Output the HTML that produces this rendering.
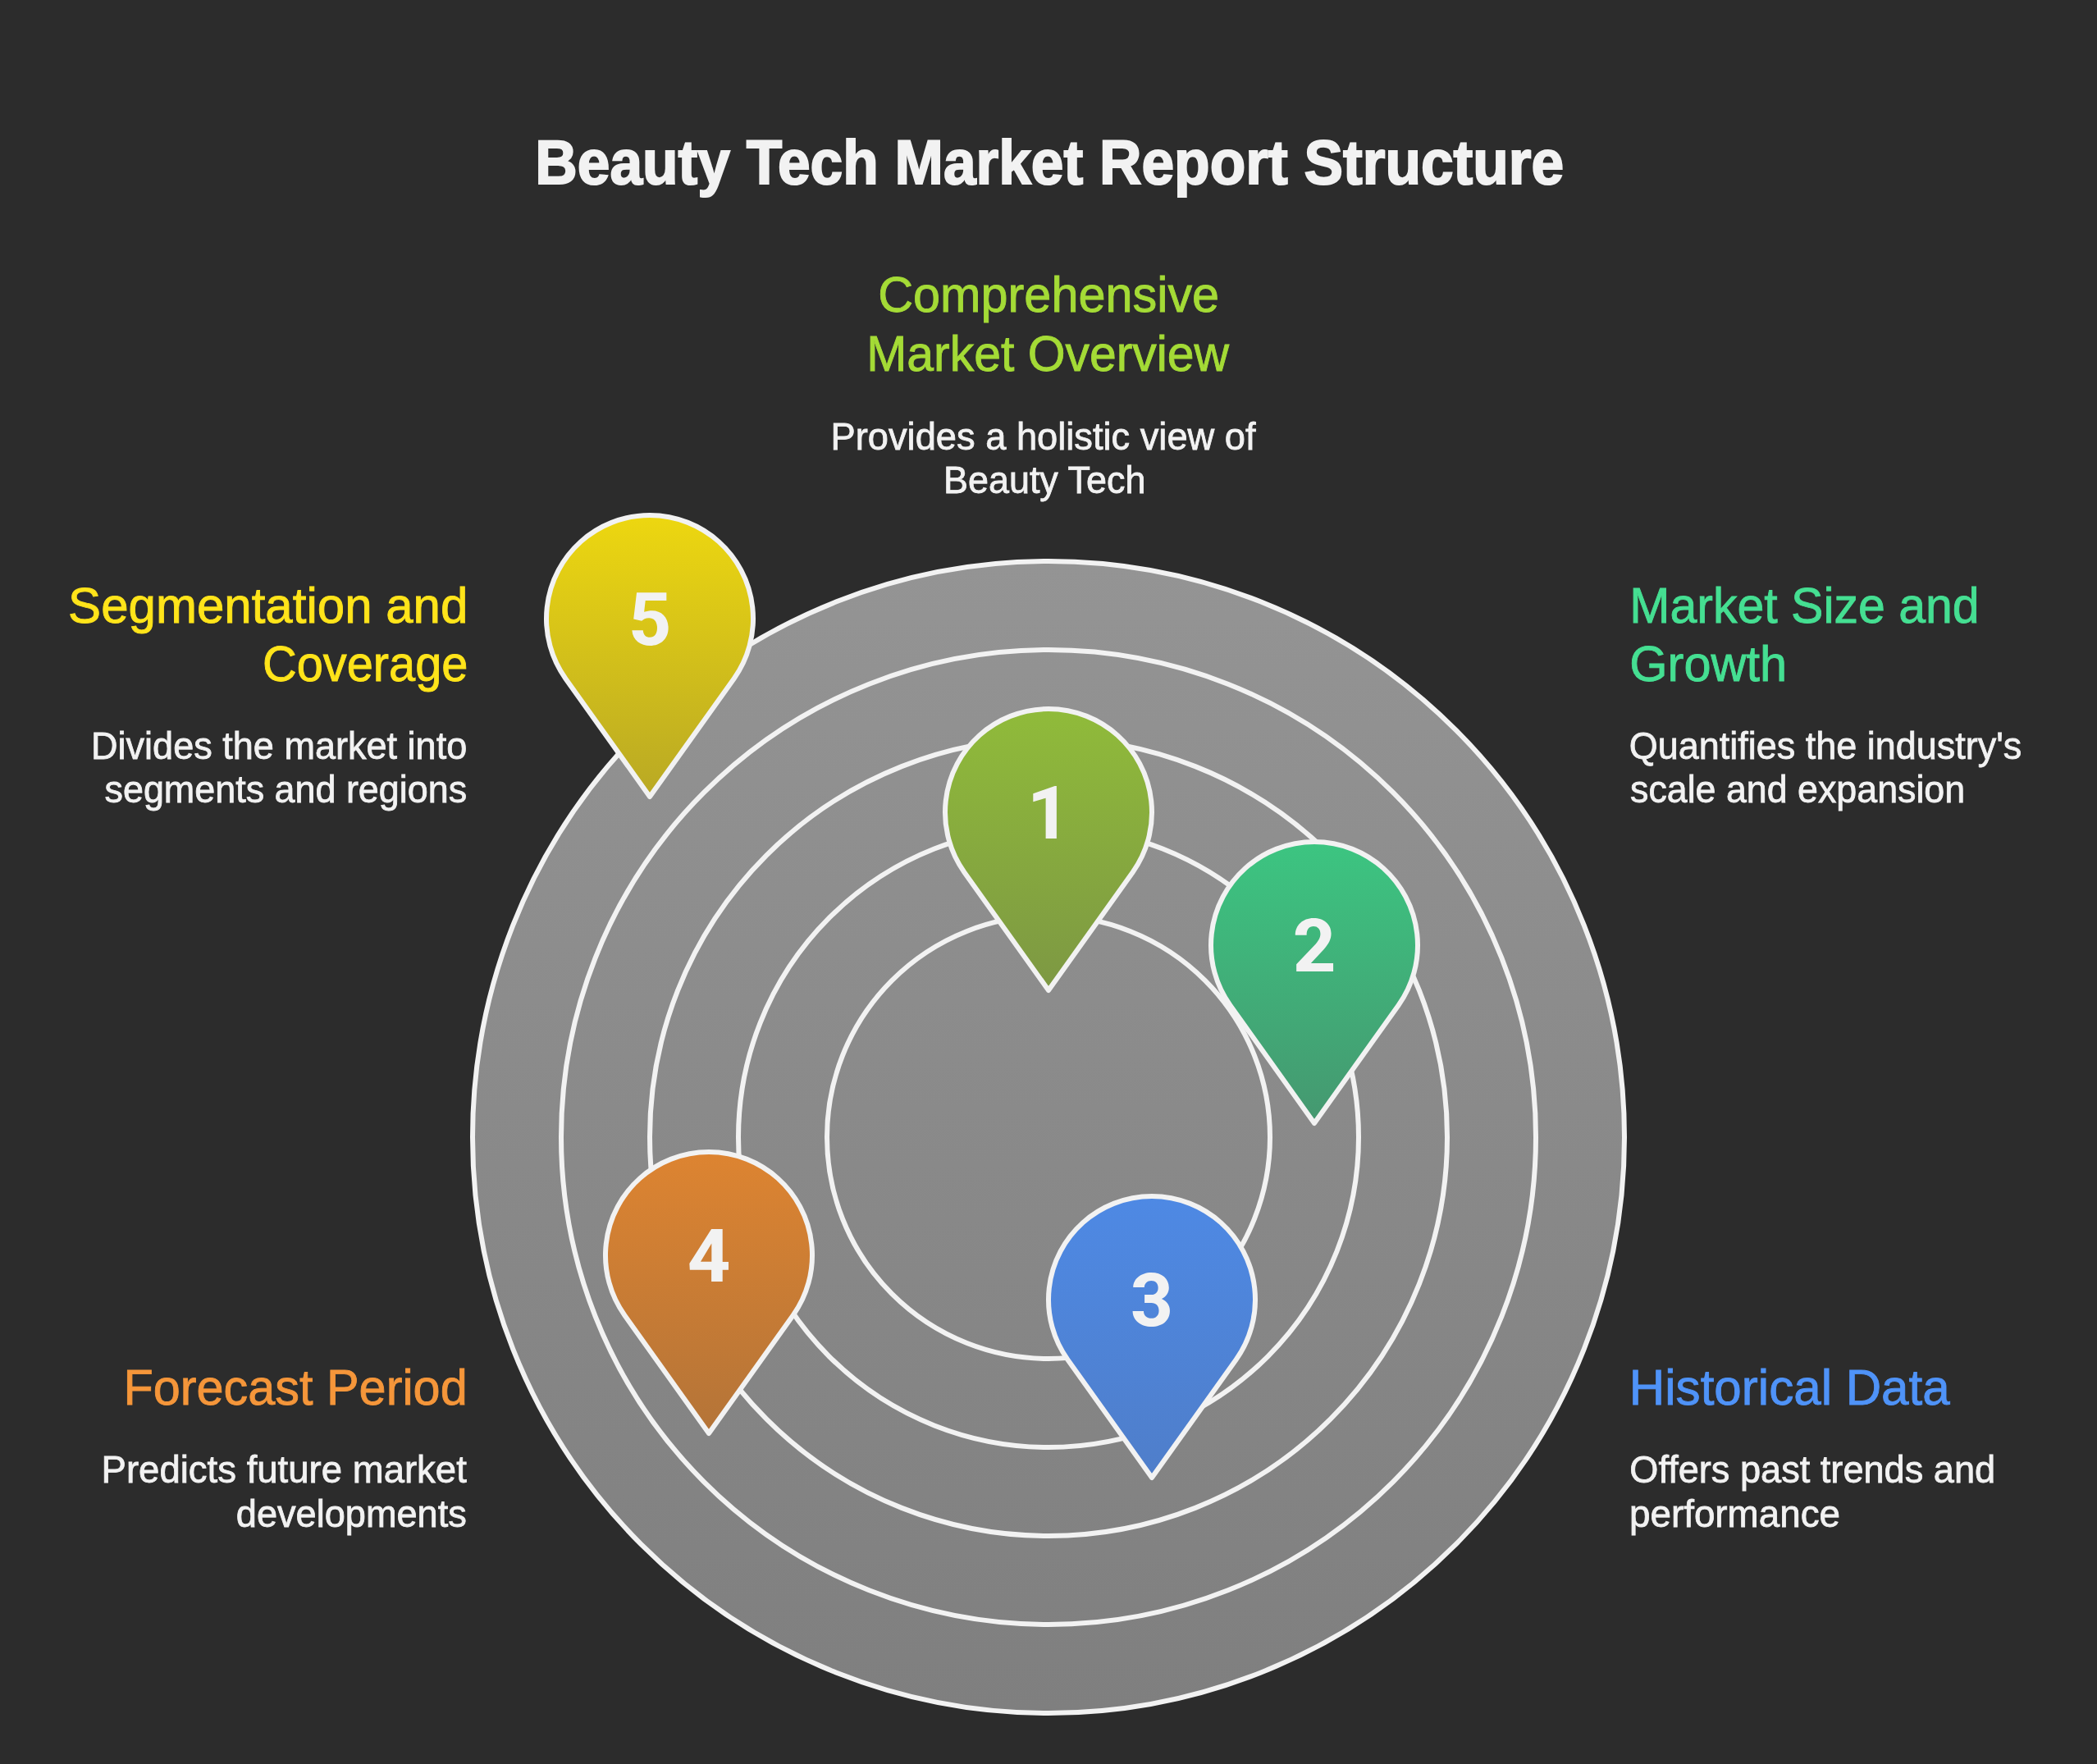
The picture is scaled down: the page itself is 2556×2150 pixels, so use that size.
<!DOCTYPE html>
<html><head><meta charset="utf-8"><style>html,body{margin:0;padding:0;background:#2c2c2c;overflow:hidden}svg{display:block;will-change:transform;width:100vw;height:auto}</style></head>
<body><svg width="2556" height="2150" viewBox="0 0 2556 2150" font-family='"Liberation Sans", sans-serif'><defs><linearGradient id="gc" gradientUnits="userSpaceOnUse" x1="0" y1="685" x2="0" y2="2087"><stop offset="0" stop-color="#949494"/><stop offset="1" stop-color="#7f7f7f"/></linearGradient><linearGradient id="g1" x1="0" y1="0" x2="0" y2="1"><stop offset="0" stop-color="#90bb3a"/><stop offset="1" stop-color="#7d9843"/></linearGradient><linearGradient id="g2" x1="0" y1="0" x2="0" y2="1"><stop offset="0" stop-color="#3cc581"/><stop offset="1" stop-color="#459870"/></linearGradient><linearGradient id="g3" x1="0" y1="0" x2="0" y2="1"><stop offset="0" stop-color="#4e89e4"/><stop offset="1" stop-color="#4f7eca"/></linearGradient><linearGradient id="g4" x1="0" y1="0" x2="0" y2="1"><stop offset="0" stop-color="#dd8431"/><stop offset="1" stop-color="#b47438"/></linearGradient><linearGradient id="g5" x1="0" y1="0" x2="0" y2="1"><stop offset="0" stop-color="#edd710"/><stop offset="1" stop-color="#b9a924"/></linearGradient></defs><rect width="2556" height="2150" fill="#2c2c2c"/><circle cx="1278" cy="1386" r="702" fill="url(#gc)" stroke="#f2f2f2" stroke-width="6"/><circle cx="1278" cy="1386" r="594" fill="url(#gc)" stroke="#f2f2f2" stroke-width="6"/><circle cx="1278" cy="1386" r="486" fill="url(#gc)" stroke="#f2f2f2" stroke-width="6"/><circle cx="1278" cy="1386" r="378" fill="url(#gc)" stroke="#f2f2f2" stroke-width="6"/><circle cx="1278" cy="1386" r="270" fill="url(#gc)" stroke="#f2f2f2" stroke-width="6"/><path d="M1278 1207 L1175.42 1063.16 A126 126 0 1 1 1380.58 1063.16 Z" fill="url(#g1)" stroke="#f2f2f2" stroke-width="6" stroke-linejoin="round"/><path transform="translate(1248 950) scale(0.045351)" fill="#f2f2f2" fill-rule="evenodd" d="M879 174 L879 1585 L587 1585 L587 500 L249 602 L249 379 L830 174 Z"/><path d="M1602 1369 L1499.42 1225.16 A126 126 0 1 1 1704.58 1225.16 Z" fill="url(#g2)" stroke="#f2f2f2" stroke-width="6" stroke-linejoin="round"/><path transform="translate(1572 1112) scale(0.045351)" fill="#f2f2f2" fill-rule="evenodd" d="M150 610 C150 350 350 155 640 155 C920 155 1115 320 1115 570 C1115 720 1050 850 920 990 L570 1365 L1170 1365 L1170 1585 L180 1585 L180 1395 L700 850 C790 745 825 660 825 580 C825 450 750 375 640 375 C520 375 455 460 455 610 Z"/><path d="M1404 1801 L1301.42 1657.16 A126 126 0 1 1 1506.58 1657.16 Z" fill="url(#g3)" stroke="#f2f2f2" stroke-width="6" stroke-linejoin="round"/><path transform="translate(1374 1544) scale(0.045351)" fill="#f2f2f2" fill-rule="evenodd" d="M160 550 L460 550 C460 450 540 375 645 375 C760 375 830 450 830 560 C830 680 760 750 650 750 L465 750 L465 970 L650 970 C775 970 850 1050 850 1180 C850 1310 770 1385 650 1385 C530 1385 440 1310 440 1190 L145 1190 C145 1440 370 1610 650 1610 C950 1610 1145 1440 1145 1180 C1145 1030 1060 920 925 860 C1045 800 1120 690 1120 560 C1120 320 930 155 645 155 C370 155 160 330 160 550 Z"/><path d="M864 1747 L761.42 1603.16 A126 126 0 1 1 966.58 1603.16 Z" fill="url(#g4)" stroke="#f2f2f2" stroke-width="6" stroke-linejoin="round"/><path transform="translate(834 1490) scale(0.045351)" fill="#f2f2f2" fill-rule="evenodd" d="M730 175 L1030 175 L1030 1060 L1190 1060 L1190 1275 L1030 1275 L1030 1585 L730 1585 L730 1275 L150 1275 L140 1105 Z M440 1055 L735 1055 L735 560 Z"/><path d="M792 971 L689.42 827.16 A126 126 0 1 1 894.58 827.16 Z" fill="url(#g5)" stroke="#f2f2f2" stroke-width="6" stroke-linejoin="round"/><path transform="translate(762 714) scale(0.045351)" fill="#f2f2f2" fill-rule="evenodd" d="M310 180 L1110 180 L1110 395 L545 395 L510 700 C580 680 650 665 720 665 C985 665 1160 850 1160 1130 C1160 1420 960 1610 665 1610 C420 1610 200 1460 185 1195 L480 1195 C490 1320 560 1385 665 1385 C790 1385 860 1290 860 1130 C860 960 775 865 640 865 C545 865 490 900 445 945 L225 895 Z"/><text id="t_title" x="652.31" y="223.5" font-size="76" fill="#f2f2f2" stroke="#f2f2f2" stroke-width="2.0" font-weight="bold" textLength="1253.90" lengthAdjust="spacingAndGlyphs">Beauty Tech Market Report Structure</text><text id="t_Comprehensive" x="1070.13" y="380.4" font-size="62" fill="#a4db36" stroke="#a4db36" stroke-width="0.9" font-weight="normal" textLength="416.00" lengthAdjust="spacingAndGlyphs">Comprehensive</text><text id="t_MarketOverview" x="1056.25" y="452.4" font-size="62" fill="#a4db36" stroke="#a4db36" stroke-width="0.9" font-weight="normal" textLength="441.85" lengthAdjust="spacingAndGlyphs">Market Overview</text><text id="t_Provides" x="1012.55" y="547.5" font-size="46" fill="#f2f2f2" stroke="#f2f2f2" stroke-width="0.8" font-weight="normal" textLength="518.03" lengthAdjust="spacingAndGlyphs">Provides a holistic view of</text><text id="t_BeautyTech" x="1149.98" y="601" font-size="46" fill="#f2f2f2" stroke="#f2f2f2" stroke-width="0.8" font-weight="normal" textLength="246.40" lengthAdjust="spacingAndGlyphs">Beauty Tech</text><text id="t_Segmentation" x="83.10" y="758.8" font-size="62" fill="#ffe41a" stroke="#ffe41a" stroke-width="0.9" font-weight="normal" textLength="487.26" lengthAdjust="spacingAndGlyphs">Segmentation and</text><text id="t_Coverage" x="319.98" y="830.4" font-size="62" fill="#ffe41a" stroke="#ffe41a" stroke-width="0.9" font-weight="normal" textLength="250.51" lengthAdjust="spacingAndGlyphs">Coverage</text><text id="t_Divides" x="111.06" y="925" font-size="46" fill="#f2f2f2" stroke="#f2f2f2" stroke-width="0.8" font-weight="normal" textLength="458.18" lengthAdjust="spacingAndGlyphs">Divides the market into</text><text id="t_segments" x="127.51" y="978" font-size="46" fill="#f2f2f2" stroke="#f2f2f2" stroke-width="0.8" font-weight="normal" textLength="441.59" lengthAdjust="spacingAndGlyphs">segments and regions</text><text id="t_MarketSize" x="1986.32" y="758.8" font-size="62" fill="#45df92" stroke="#45df92" stroke-width="0.9" font-weight="normal" textLength="426.39" lengthAdjust="spacingAndGlyphs">Market Size and</text><text id="t_Growth" x="1986.29" y="830.4" font-size="62" fill="#45df92" stroke="#45df92" stroke-width="0.9" font-weight="normal" textLength="191.81" lengthAdjust="spacingAndGlyphs">Growth</text><text id="t_Quantifies" x="1985.84" y="925" font-size="46" fill="#f2f2f2" stroke="#f2f2f2" stroke-width="0.8" font-weight="normal" textLength="478.42" lengthAdjust="spacingAndGlyphs">Quantifies the industry&#39;s</text><text id="t_scale" x="1987.02" y="978" font-size="46" fill="#f2f2f2" stroke="#f2f2f2" stroke-width="0.8" font-weight="normal" textLength="408.14" lengthAdjust="spacingAndGlyphs">scale and expansion</text><text id="t_Forecast" x="150.38" y="1712.4" font-size="62" fill="#f5963a" stroke="#f5963a" stroke-width="0.9" font-weight="normal" textLength="419.32" lengthAdjust="spacingAndGlyphs">Forecast Period</text><text id="t_Predicts" x="123.54" y="1806.5" font-size="46" fill="#f2f2f2" stroke="#f2f2f2" stroke-width="0.8" font-weight="normal" textLength="445.31" lengthAdjust="spacingAndGlyphs">Predicts future market</text><text id="t_developments" x="287.83" y="1861" font-size="46" fill="#f2f2f2" stroke="#f2f2f2" stroke-width="0.8" font-weight="normal" textLength="280.97" lengthAdjust="spacingAndGlyphs">developments</text><text id="t_Historical" x="1985.86" y="1712.4" font-size="62" fill="#4f93f8" stroke="#4f93f8" stroke-width="0.9" font-weight="normal" textLength="390.78" lengthAdjust="spacingAndGlyphs">Historical Data</text><text id="t_Offers" x="1986.32" y="1806.5" font-size="46" fill="#f2f2f2" stroke="#f2f2f2" stroke-width="0.8" font-weight="normal" textLength="445.86" lengthAdjust="spacingAndGlyphs">Offers past trends and</text><text id="t_performance" x="1986.01" y="1861" font-size="46" fill="#f2f2f2" stroke="#f2f2f2" stroke-width="0.8" font-weight="normal" textLength="257.03" lengthAdjust="spacingAndGlyphs">performance</text></svg></body></html>
